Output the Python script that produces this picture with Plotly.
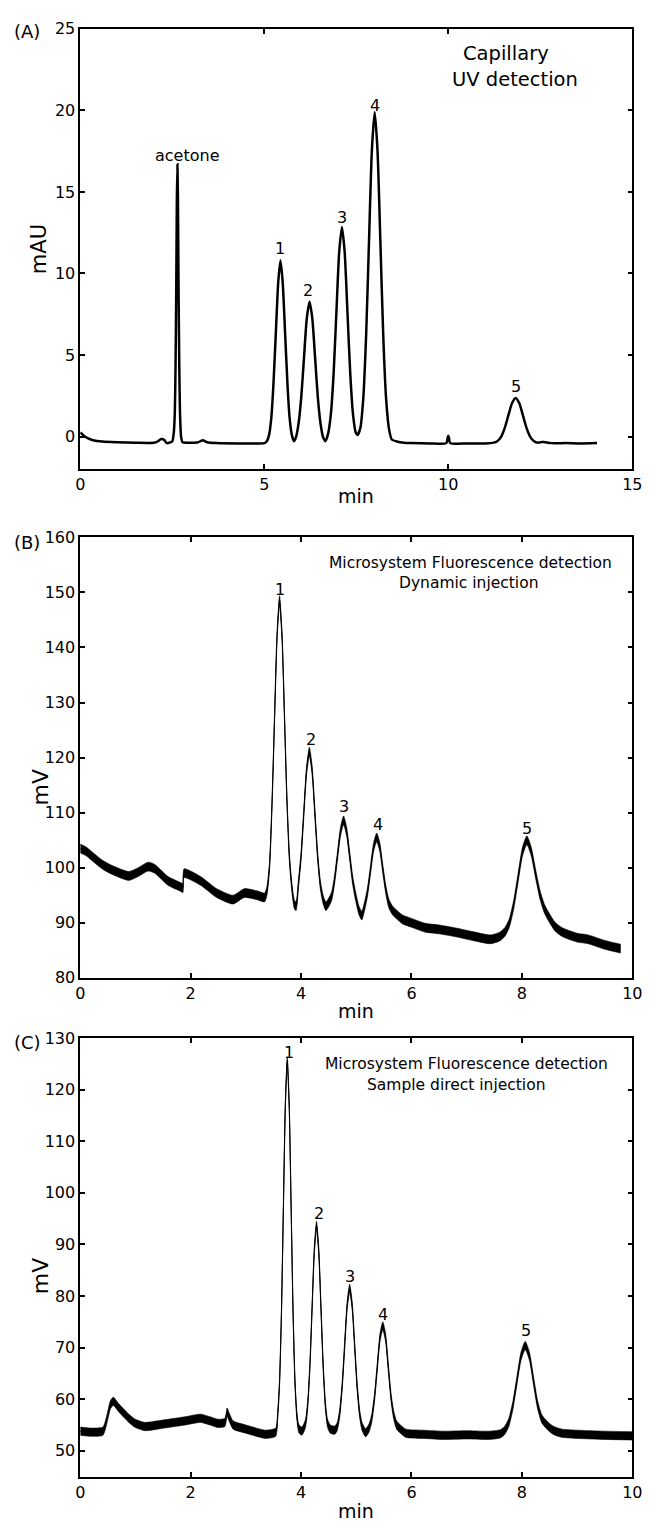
import plotly.graph_objects as go

FONT = "DejaVu Sans, Liberation Sans, Arial, sans-serif"

# (A) capillary, UV detection: (min, mAU)
TRACE_A = [
    (0, 0.25), (0.1, 0.05), (0.2, -0.1), (0.35, -0.22), (0.6, -0.3), (1.0, -0.35),
    (1.5, -0.38), (2.0, -0.38), (2.1, -0.3), (2.2, -0.15), (2.28, -0.2), (2.35, -0.4),
    (2.45, -0.35), (2.50, -0.3), (2.54, 0.2), (2.57, 1.5), (2.59, 4.5), (2.61, 9.5),
    (2.625, 14.5), (2.64, 16.7), (2.655, 14.5), (2.67, 9.5), (2.69, 4.5), (2.71, 1.5),
    (2.74, 0.0), (2.78, -0.35), (2.9, -0.38), (3.2, -0.35), (3.33, -0.22), (3.45, -0.35),
    (3.7, -0.4), (4.5, -0.42), (5.0, -0.4), (5.07, -0.28), (5.13, 0.09), (5.19, 1.11),
    (5.25, 3.24), (5.315, 6.4), (5.38, 9.48), (5.44, 10.8), (5.50, 9.48), (5.565, 6.4),
    (5.63, 3.24), (5.69, 1.11), (5.75, 0.09), (5.81, -0.28), (5.86, -0.05), (5.93, 0.77),
    (6.005, 2.42), (6.08, 4.86), (6.155, 7.25), (6.23, 8.27), (6.305, 7.25), (6.38, 4.86),
    (6.455, 2.42), (6.53, 0.77), (6.6, -0.05), (6.66, -0.28), (6.735, 0.18), (6.81, 1.39),
    (6.885, 3.91), (6.96, 7.64), (7.035, 11.29), (7.11, 12.85), (7.185, 11.29), (7.26, 7.64),
    (7.335, 3.91), (7.41, 1.39), (7.485, 0.25), (7.535, 0.1), (7.6125, 0.55), (7.69, 2.34),
    (7.7675, 6.2), (7.845, 11.92), (7.9225, 17.5), (8.0, 19.9), (8.0775, 17.5), (8.155, 11.92),
    (8.2325, 6.2), (8.31, 2.34), (8.3875, 0.49), (8.465, -0.18), (8.6, -0.3), (8.8, -0.38),
    (9.0, -0.4), (9.5, -0.42), (9.95, -0.4), (9.98, -0.1), (10.0, 0.05), (10.02, -0.1),
    (10.05, -0.4), (10.5, -0.42), (11.0, -0.42), (11.23, -0.37), (11.33, -0.28), (11.43, -0.03),
    (11.53, 0.5), (11.63, 1.28), (11.73, 2.04), (11.83, 2.37), (11.93, 2.04), (12.03, 1.28),
    (12.13, 0.5), (12.23, -0.03), (12.33, -0.28), (12.43, -0.37), (12.55, -0.33), (12.6, -0.33),
    (12.8, -0.4), (13.2, -0.4), (13.6, -0.42), (14.04, -0.4),
]

# (B) microsystem, dynamic injection: (min, mV)
TRACE_B = [
    (0, 103.5), (0.1, 103.0), (0.2, 102.2), (0.41, 100.5), (0.6, 99.5), (0.88, 98.5),
    (1.05, 99.2), (1.23, 100.2), (1.35, 99.8), (1.59, 97.6), (1.82, 96.5), (1.86, 96.3),
    (1.88, 99.0), (2.18, 97.6), (2.47, 95.4), (2.77, 94.2), (2.97, 95.4), (3.2, 95.0),
    (3.34, 94.6), (3.385, 96.0), (3.43, 100.5), (3.475, 112.0), (3.52, 127.3), (3.565, 142.1),
    (3.61, 148.6), (3.655, 142.1), (3.70, 127.3), (3.745, 112.0), (3.79, 101.6), (3.835, 96.3),
    (3.88, 93.3), (3.91, 93.0), (3.95, 96.8), (4.0, 102.1), (4.05, 110.0), (4.10, 117.7),
    (4.15, 121.1), (4.20, 117.7), (4.25, 110.0), (4.30, 102.1), (4.35, 96.8), (4.40, 94.2),
    (4.45, 93.0), (4.55, 94.7), (4.605, 97.7), (4.66, 102.2), (4.715, 106.6), (4.77, 108.6),
    (4.825, 106.6), (4.88, 102.2), (4.935, 97.7), (4.99, 94.7), (5.05, 92.2), (5.10, 91.3),
    (5.15, 93.0), (5.205, 95.7), (5.26, 99.8), (5.315, 103.8), (5.37, 105.5), (5.425, 103.8),
    (5.48, 99.8), (5.535, 96.0), (5.59, 93.5), (5.66, 92.2), (5.84, 90.6), (6.0, 90.0),
    (6.25, 89.1), (6.5, 88.8), (6.83, 88.2), (7.1, 87.6), (7.43, 87.0), (7.6, 87.5),
    (7.69, 88.3), (7.77, 89.9), (7.85, 93.2), (7.93, 98.1), (8.01, 102.9), (8.09, 105.0),
    (8.17, 102.9), (8.25, 98.8), (8.33, 95.0), (8.41, 92.5), (8.49, 91.0), (8.6, 89.3),
    (8.73, 88.3), (9.0, 87.3), (9.2, 87.0), (9.5, 86.0), (9.79, 85.3),
]

# (C) microsystem, sample direct injection: (min, mV)
TRACE_C = [
    (0, 53.8), (0.2, 53.6), (0.41, 53.8), (0.48, 56.0), (0.55, 59.0), (0.6, 59.6),
    (0.7, 58.3), (0.88, 56.3), (1.0, 55.3), (1.17, 54.7), (1.4, 55.0), (1.59, 55.3),
    (1.9, 55.8), (2.18, 56.3), (2.35, 55.8), (2.5, 55.3), (2.62, 55.5), (2.66, 57.5),
    (2.7, 56.5), (2.77, 55.0), (3.0, 54.2), (3.36, 53.2), (3.54, 53.6), (3.575, 56.7),
    (3.61, 63.2), (3.645, 76.9), (3.68, 97.2), (3.715, 117.0), (3.75, 125.6), (3.785, 117.0),
    (3.82, 97.2), (3.855, 76.9), (3.89, 63.2), (3.925, 56.7), (3.96, 54.3), (4.01, 53.8),
    (4.04, 54.2), (4.08, 55.3), (4.12, 58.9), (4.16, 66.5), (4.20, 77.8), (4.24, 88.8),
    (4.28, 93.7), (4.32, 88.8), (4.36, 77.8), (4.40, 66.5), (4.44, 58.9), (4.48, 55.3),
    (4.53, 54.2), (4.61, 54.0), (4.655, 54.7), (4.70, 57.3), (4.745, 62.6), (4.79, 70.5),
    (4.835, 78.2), (4.88, 81.5), (4.925, 78.2), (4.97, 70.5), (5.015, 62.6), (5.06, 57.3),
    (5.105, 54.7), (5.17, 53.5), (5.23, 54.4), (5.28, 56.3), (5.33, 60.3), (5.38, 66.2),
    (5.43, 72.0), (5.48, 74.2), (5.53, 72.0), (5.58, 66.2), (5.63, 60.3), (5.68, 56.8),
    (5.73, 55.0), (5.8, 54.2), (5.9, 53.4), (6.2, 53.2), (6.6, 53.0), (7.0, 53.1),
    (7.4, 53.0), (7.61, 53.3), (7.685, 53.9), (7.76, 55.4), (7.835, 58.7), (7.91, 63.6),
    (7.985, 68.4), (8.06, 70.4), (8.135, 68.4), (8.21, 63.6), (8.285, 58.9), (8.36, 56.2),
    (8.435, 55.2), (8.51, 54.4), (8.6, 53.8), (8.73, 53.4), (9.0, 53.2), (9.5, 53.0),
    (10.0, 52.9),
]

# detector noise, half-width of the dark band (mV)
NOISE_B = 0.8
NOISE_C = 0.8

# peak labels: (text, min, signal)
LABELS_A = [("acetone", 2.92, 17.25), ("1", 5.43, 11.55), ("2", 6.2, 8.93),
            ("3", 7.11, 13.45), ("4", 8.0, 20.3), ("5", 11.85, 3.05)]
LABELS_B = [("1", 3.62, 150.5), ("2", 4.18, 123.2), ("3", 4.77, 111.2),
            ("4", 5.39, 107.8), ("5", 8.09, 107.2)]
LABELS_C = [("1", 3.78, 127.3), ("2", 4.32, 95.9), ("3", 4.88, 83.8),
            ("4", 5.49, 76.4), ("5", 8.07, 73.4)]

TITLES_A = [("Capillary", 11.57, 23.5), ("UV detection", 11.8, 21.9)]
TITLES_B = [("Microsystem Fluorescence detection", 7.06, 155.3), ("Dynamic injection", 7.04, 151.7)]
TITLES_C = [("Microsystem Fluorescence detection", 6.99, 125.0), ("Sample direct injection", 6.8, 121.0)]

W, H = 656, 1533


def px_x(px):
    return px / W


def px_y(py):
    return 1 - py / H


def main():
    fig = go.Figure()
    _add_clean_trace(fig, TRACE_A, "x", "y")
    _add_noisy_trace(fig, TRACE_B, NOISE_B, "x2", "y2")
    _add_noisy_trace(fig, TRACE_C, NOISE_C, "x3", "y3")

    annotations = []
    annotations += _text_marks(LABELS_A, "x", "y", 16)
    annotations += _text_marks(TITLES_A, "x", "y", 19.5)
    annotations += _text_marks(LABELS_B, "x2", "y2", 16)
    annotations += _text_marks(TITLES_B, "x2", "y2", 15.5)
    annotations += _text_marks(LABELS_C, "x3", "y3", 16)
    annotations += _text_marks(TITLES_C, "x3", "y3", 15.5)
    annotations += _paper_texts()

    xdom = [px_x(77), px_x(642)]
    fig.update_layout(
        width=W, height=H,
        margin=dict(l=0, r=0, t=0, b=0),
        plot_bgcolor="white", paper_bgcolor="white",
        showlegend=False,
        font=dict(family=FONT, size=16, color="black"),
        xaxis=_axis(xdom, [0, 15], [0, 5, 10, 15], "y"),
        yaxis=_axis([px_y(466), px_y(20)], [-2, 25], [0, 5, 10, 15, 20, 25], "x"),
        xaxis2=_axis(xdom, [0, 10], [0, 2, 4, 6, 8, 10], "y2"),
        yaxis2=_axis([px_y(981), px_y(535)], [80, 160], list(range(80, 161, 10)), "x2"),
        xaxis3=_axis(xdom, [0, 10], [0, 2, 4, 6, 8, 10], "y3"),
        yaxis3=_axis([px_y(1486), px_y(1042)], [45, 130], list(range(50, 131, 10)), "x3"),
        annotations=annotations,
    )
    # drop the default body margin so the figure fills the window exactly
    fig.write_html(
        "out.html",
        config={"displayModeBar": False},
        post_script="document.body.style.margin='0';document.body.style.overflow='hidden';",
    )


def _add_clean_trace(fig, trace, xref, yref):
    t, v = zip(*trace)
    fig.add_trace(go.Scatter(x=t, y=v, mode="lines", xaxis=xref, yaxis=yref,
                             line=dict(color="black", width=2.5, shape="spline", smoothing=0.6)))


def _add_noisy_trace(fig, trace, noise, xref, yref):
    t, v = zip(*trace)
    low = [s - noise for s in v]
    high = [s + noise for s in v]
    line = dict(color="black", width=0.6, shape="spline", smoothing=0.6)
    fig.add_trace(go.Scatter(x=t, y=low, mode="lines", xaxis=xref, yaxis=yref, line=line))
    fig.add_trace(go.Scatter(x=t, y=high, mode="lines", xaxis=xref, yaxis=yref, line=line,
                             fill="tonexty", fillcolor="black"))
    fig.add_trace(go.Scatter(x=t, y=v, mode="lines", xaxis=xref, yaxis=yref,
                             line=dict(color="black", width=1, shape="spline", smoothing=0.6)))


def _text_marks(items, xref, yref, size):
    return [
        dict(text=text, x=x, y=y, xref=xref, yref=yref, showarrow=False,
             xanchor="center", yanchor="middle", font=dict(size=size, family=FONT))
        for text, x, y in items
    ]


def _paper_texts():
    items = [
        ("(A)", 23, 23, 18, 0), ("(B)", 23, 540, 18, 0), ("(C)", 23, 1046, 18, 0),
        ("mAU", 35, 243, 21, -90), ("min", 359, 493, 19, 0),
        ("mV", 36, 788, 22, -90), ("min", 359, 1015, 19, 0),
        ("mV", 36, 1283, 22, -90), ("min", 359, 1521, 19, 0),
    ]
    return [
        dict(text=text, x=px_x(px), y=px_y(py), xref="paper", yref="paper",
             showarrow=False, xanchor="center", yanchor="middle", textangle=angle,
             font=dict(size=size, family=FONT))
        for text, px, py, size, angle in items
    ]


def _axis(domain, rng, ticks, anchor):
    return dict(
        domain=domain, range=rng, tickvals=ticks, anchor=anchor,
        showline=True, linecolor="black", linewidth=1.6, mirror="ticks",
        ticks="inside", ticklen=5, tickwidth=1.6, tickcolor="black",
        showgrid=False, zeroline=False,
        tickfont=dict(family=FONT, size=16, color="black"),
    )


if __name__ == "__main__":
    main()
